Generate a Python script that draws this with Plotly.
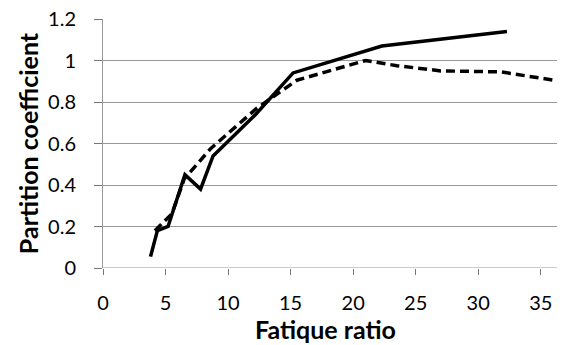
import plotly.graph_objects as go

solid_x = [3.8, 4.35, 5.2, 6.55, 7.8, 8.8, 12.2, 15.2, 22.3, 32.3]
solid_y = [0.055, 0.18, 0.2, 0.45, 0.38, 0.54, 0.74, 0.94, 1.07, 1.14]

dash_x = [4.15, 5.5, 6.5, 8.6, 12.3, 15.5, 21.0, 23.5, 27.0, 31.8, 36.6]
dash_y = [0.18, 0.26, 0.43, 0.575, 0.77, 0.905, 1.0, 0.975, 0.95, 0.945, 0.9]

x_ticks = [0, 5, 10, 15, 20, 25, 30, 35]
y_ticks = [0, 0.2, 0.4, 0.6, 0.8, 1, 1.2]
y_labels = ["0", "0.2", "0.4", "0.6", "0.8", "1", "1.2"]

fig = go.Figure()
fig.add_trace(go.Scatter(x=solid_x, y=solid_y, mode="lines",
                         line=dict(color="black", width=3.5), showlegend=False))
fig.add_trace(go.Scatter(x=dash_x, y=dash_y, mode="lines",
                         line=dict(color="black", width=3.5, dash="9px,5px"), showlegend=False))

fig.update_layout(
    width=564, height=345,
    margin=dict(l=103, r=7, t=19, b=77),
    paper_bgcolor="white", plot_bgcolor="white",
    font=dict(family="Lato, Open Sans, sans-serif", color="black", size=20),
    xaxis=dict(range=[0, 36.3], tickvals=x_ticks, showgrid=False,
               zeroline=False, showline=False, ticks="outside", ticklen=6,
               tickcolor="#777", tickfont=dict(size=20),
               ticklabelstandoff=11),
    yaxis=dict(range=[0, 1.2], tickvals=y_ticks, ticktext=y_labels,
               showgrid=True, gridcolor="#999999", gridwidth=1,
               zeroline=False, showline=True, linecolor="#999999", linewidth=1,
               ticks="outside", ticklen=8, tickcolor="#777",
               tickfont=dict(size=20), ticklabelstandoff=14,
               title=dict(text="<b>Partition coefficient</b>", font=dict(size=25), standoff=2)),
    annotations=[dict(text="<b>Fatique ratio</b>", xref="paper", yref="paper",
                      x=0.49, y=-0.245, xanchor="center", yanchor="middle",
                      showarrow=False, font=dict(size=25))],
)
fig.add_shape(type="line", xref="paper", yref="y", x0=0, x1=1, y0=0, y1=0,
              line=dict(color="#999999", width=1))
fig.write_html("out.html")
